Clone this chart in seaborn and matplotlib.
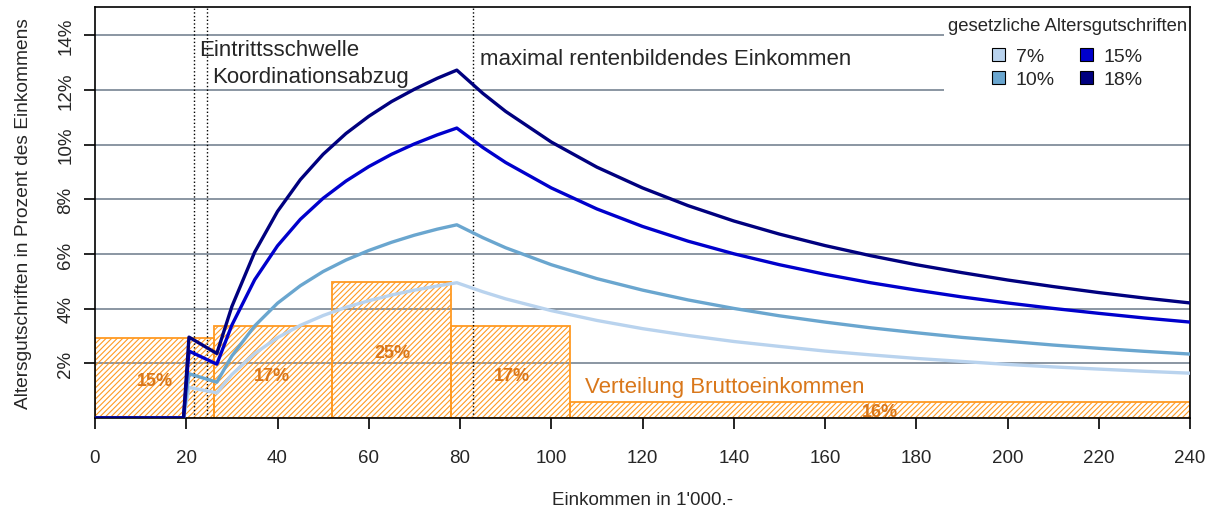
import numpy as np
import pandas as pd
import matplotlib
matplotlib.use("Agg")
import matplotlib.pyplot as plt
from matplotlib.patches import Patch, Rectangle
import seaborn as sns

# income in 1'000 CHF
einkommen = [0, 19.4, 20.6, 26.7, 30, 35, 40, 45, 50, 55, 60, 65, 70, 75, 79.3,
             85, 90, 100, 110, 120, 130, 140, 150, 160, 170, 180, 190, 200,
             210, 220, 230, 240]
# credits in % of income
gut_7 = [0, 0, 1.12, 0.92, 1.59, 2.36, 2.94, 3.39, 3.75, 4.05, 4.29, 4.50, 4.68, 4.83, 4.95,
         4.62, 4.36, 3.93, 3.57, 3.27, 3.02, 2.80, 2.62, 2.45, 2.31, 2.18, 2.07, 1.96,
         1.87, 1.79, 1.71, 1.64]
gut_10 = [0, 0, 1.62, 1.31, 2.27, 3.37, 4.20, 4.84, 5.36, 5.78, 6.13, 6.43, 6.69, 6.91, 7.07,
          6.60, 6.23, 5.61, 5.10, 4.68, 4.32, 4.01, 3.74, 3.51, 3.30, 3.12, 2.95, 2.81,
          2.67, 2.55, 2.44, 2.34]
gut_15 = [0, 0, 2.45, 1.97, 3.40, 5.06, 6.30, 7.27, 8.04, 8.67, 9.20, 9.65, 10.03, 10.36, 10.61,
          9.90, 9.35, 8.42, 7.65, 7.01, 6.47, 6.01, 5.61, 5.26, 4.95, 4.68, 4.43, 4.21,
          4.01, 3.83, 3.66, 3.51]
gut_18 = [0, 0, 2.96, 2.36, 4.08, 6.07, 7.56, 8.72, 9.65, 10.41, 11.04, 11.58, 12.03, 12.43, 12.73,
          11.88, 11.22, 10.10, 9.18, 8.42, 7.77, 7.21, 6.73, 6.31, 5.94, 5.61, 5.32, 5.05,
          4.81, 4.59, 4.39, 4.21]
saetze = ["7%", "10%", "15%", "18%"]
farben = ["#b9d3ee", "#6aa6cf", "#0000cc", "#00007f"]

# income distribution (bars)
klassen_start = [0, 26, 52, 78, 104]
klassen_breite = [26, 26, 26, 26, 136]
klassen_hoehe = [2.93, 3.37, 4.98, 3.37, 0.59]
klassen_label = ["15%", "17%", "25%", "17%", "16%"]
label_x = [13.2, 38.8, 65.1, 91.4, 172]
label_y = [1.39, 1.57, 2.38, 1.57, 0.22]

grenzen = [21.7, 24.6, 82.9]

df = pd.DataFrame({
    "x": einkommen * 4,
    "y": gut_7 + gut_10 + gut_15 + gut_18,
    "satz": [s for s in saetze for _ in einkommen],
})

sns.set_theme(style="white")
plt.rcParams["font.family"] = ["Liberation Sans", "DejaVu Sans"]
orange = "#ff9a22"
plt.rcParams["hatch.color"] = orange
plt.rcParams["hatch.linewidth"] = 0.8

fig = plt.figure(figsize=(12.13, 5.10), dpi=100)
ax = fig.add_axes([95 / 1213, 1 - 419 / 510, 1095 / 1213, 411 / 510])

ax.bar(klassen_start, klassen_hoehe, width=klassen_breite, align="edge",
       facecolor="none", edgecolor=orange, hatch="//////", linewidth=1.3, zorder=1)
for t, xx, yy in zip(klassen_label, label_x, label_y):
    ax.text(xx, yy, t, ha="center", va="center", fontsize=13, fontweight="bold",
            color="#d9771a", zorder=3)
ax.text(107.4, 1.17, "Verteilung Bruttoeinkommen", ha="left", va="center",
        fontsize=16, color="#d9771a")

sns.lineplot(data=df, x="x", y="y", hue="satz", palette=farben, hue_order=saetze,
             linewidth=2.4, ax=ax, legend=False, zorder=4)

for g in grenzen:
    ax.axvline(g, color="black", linestyle=":", linewidth=1, zorder=2)

ax.text(22.8, 13.5, "Eintrittsschwelle", fontsize=16, va="center", ha="left")
ax.text(25.6, 12.48, "Koordinationsabzug", fontsize=16, va="center", ha="left")
ax.text(84.4, 13.14, "maximal rentenbildendes Einkommen", fontsize=16, va="center", ha="left")

ax.set_xlim(0, 240)
ax.set_ylim(0, 15.04)
ax.set_xticks(range(0, 241, 20))
ax.set_yticks(range(2, 15, 2))
ax.set_yticklabels([f"{v}%" for v in range(2, 15, 2)], rotation=90, va="center")
ax.yaxis.grid(True, color="#8a96a2", linewidth=1.4)
ax.set_axisbelow(True)
ax.tick_params(axis="both", direction="out", length=8, width=1.2, color="black",
               labelsize=13.5, bottom=True, left=True)
ax.tick_params(axis="x", pad=14)
ax.tick_params(axis="y", pad=7)
for sp in ax.spines.values():
    sp.set_color("black")
    sp.set_linewidth(1.2)

ax.set_xlabel("Einkommen in 1'000.-", fontsize=13.5, labelpad=18)
ax.set_ylabel("Altersgutschriften in Prozent des Einkommens", fontsize=13.8, labelpad=18)

# white box behind the legend, hiding the gridlines
ax.add_patch(Rectangle((849 / 1095, 1 - 92 / 411), 246 / 1095, 92 / 411,
                       transform=ax.transAxes, facecolor="white", edgecolor="none",
                       zorder=0.8))

handles = [Patch(facecolor=c, edgecolor="black", linewidth=0.8) for c in farben]
leg = ax.legend(handles, saetze, title="gesetzliche Altersgutschriften", ncol=2,
                loc="upper right", bbox_to_anchor=(1.006, 1.0), fontsize=14,
                title_fontsize=13.3, frameon=False,
                handlelength=0.68, handleheight=0.68, handletextpad=0.55,
                labelspacing=0.3, columnspacing=1.3, borderpad=0.4,
                borderaxespad=0.1)
leg._legend_box.sep = 10
leg.set_zorder(5)

fig.savefig("out.png", dpi=100)
